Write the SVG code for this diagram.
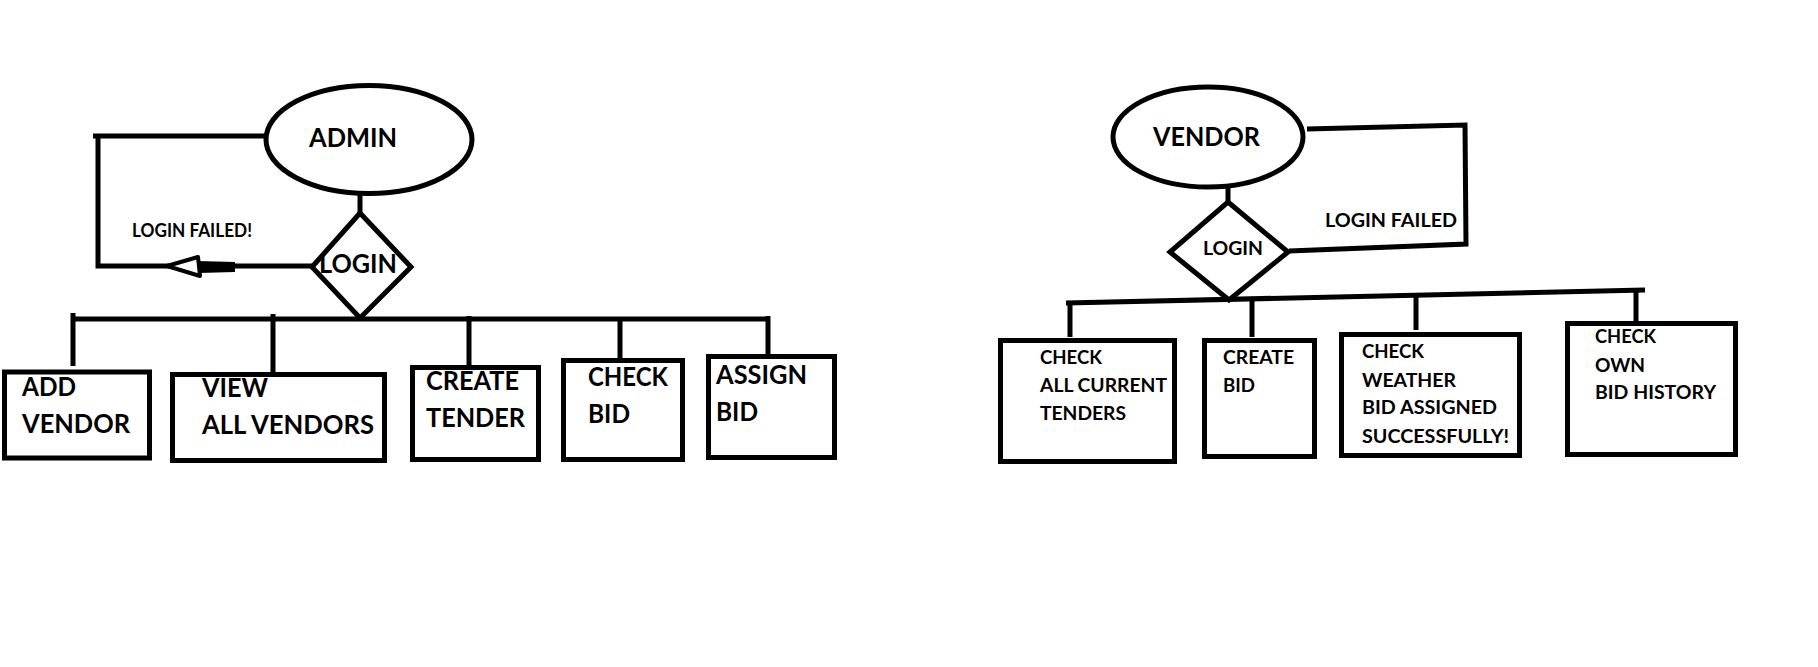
<svg xmlns="http://www.w3.org/2000/svg" width="1818" height="667" viewBox="0 0 1818 667">
<style>
  .shape { fill: #fff; stroke: #000; stroke-width: 5; }
  .line { fill: none; stroke: #000; stroke-width: 5; stroke-linejoin: miter; }
  text { font-family: Lato, "Open Sans", "Liberation Sans", sans-serif; font-weight: bold; fill: #000; }
  .big { font-size: 26px; }
  .mid { font-size: 19.5px; }
  .sm { font-size: 18px; }
</style>
<rect width="1818" height="667" fill="#fff"/>
<g id="connectors">
  <path class="line" d="M267,136 H93 M98,136 V266 H312"/>
  <polygon points="167,266 198,257 200,276" fill="#fff" stroke="#000" stroke-width="4" stroke-linejoin="round"/>
  <polygon points="197,261 235,262 235,272 199,273" fill="#000"/>
  <path class="line" d="M360,194 V213"/>
  <path class="line" d="M71,319 H768"/>
  <path class="line" d="M73,313 V366"/>
  <path class="line" d="M273,314 V372"/>
  <path class="line" d="M469,316 V365"/>
  <path class="line" d="M620,319 V358"/>
  <path class="line" d="M768,316 V354"/>
  <path class="line" d="M1228,187 V202"/>
  <path class="line" d="M1307,129 L1465,125 L1466,244 L1289,251"/>
  <path class="line" d="M1066,303 L1645,290"/>
  <path class="line" d="M1070,303 V337"/>
  <path class="line" d="M1252,299 V337"/>
  <path class="line" d="M1416,296 V330"/>
  <path class="line" d="M1636,290 V322"/>
</g>
<g id="admin">
  <ellipse class="shape" cx="369" cy="139.5" rx="103" ry="54"/>
  <text class="big" x="309" y="147" textLength="88" lengthAdjust="spacingAndGlyphs">ADMIN</text>
</g>
<g id="admin-login">
  <polygon class="shape" points="360,213 411,267 360,318 312,267"/>
  <text class="big" x="319" y="273" textLength="78" lengthAdjust="spacingAndGlyphs">LOGIN</text>
</g>
<g id="admin-login-failed">
  <text class="sm" x="132" y="237" textLength="120" lengthAdjust="spacingAndGlyphs">LOGIN FAILED!</text>
</g>
<g id="add-vendor">
  <rect class="shape" x="4.5" y="372" width="145" height="86"/>
  <text class="big" x="22" y="396" textLength="54" lengthAdjust="spacingAndGlyphs">ADD</text>
  <text class="big" x="22" y="433" textLength="108" lengthAdjust="spacingAndGlyphs">VENDOR</text>
</g>
<g id="view-all-vendors">
  <rect class="shape" x="172.5" y="374.5" width="212" height="86"/>
  <text class="big" x="202" y="397" textLength="66" lengthAdjust="spacingAndGlyphs">VIEW</text>
  <text class="big" x="202" y="434" textLength="172" lengthAdjust="spacingAndGlyphs">ALL VENDORS</text>
</g>
<g id="create-tender">
  <rect class="shape" x="412.5" y="367.5" width="126" height="92"/>
  <text class="big" x="426" y="390" textLength="93" lengthAdjust="spacingAndGlyphs">CREATE</text>
  <text class="big" x="426" y="427" textLength="99" lengthAdjust="spacingAndGlyphs">TENDER</text>
</g>
<g id="check-bid">
  <rect class="shape" x="563.5" y="360.5" width="119" height="99"/>
  <text class="big" x="588" y="386" textLength="80" lengthAdjust="spacingAndGlyphs">CHECK</text>
  <text class="big" x="588" y="423" textLength="42" lengthAdjust="spacingAndGlyphs">BID</text>
</g>
<g id="assign-bid">
  <rect class="shape" x="708.5" y="356.5" width="126" height="101"/>
  <text class="big" x="716" y="384" textLength="91" lengthAdjust="spacingAndGlyphs">ASSIGN</text>
  <text class="big" x="716" y="421" textLength="42" lengthAdjust="spacingAndGlyphs">BID</text>
</g>
<g id="vendor">
  <ellipse class="shape" cx="1208" cy="137" rx="95" ry="50"/>
  <text class="big" x="1153" y="146" textLength="107" lengthAdjust="spacingAndGlyphs">VENDOR</text>
</g>
<g id="vendor-login">
  <polygon class="shape" points="1228,202 1288,252 1229,300 1170,252"/>
  <text class="mid" x="1203" y="255" textLength="60" lengthAdjust="spacingAndGlyphs">LOGIN</text>
</g>
<g id="vendor-login-failed">
  <text class="mid" x="1325" y="227" textLength="132" lengthAdjust="spacingAndGlyphs">LOGIN FAILED</text>
</g>
<g id="check-all-current-tenders">
  <rect class="shape" x="1000.5" y="340.5" width="174" height="121"/>
  <text class="mid" x="1040" y="364" textLength="62" lengthAdjust="spacingAndGlyphs">CHECK</text>
  <text class="mid" x="1040" y="392" textLength="127" lengthAdjust="spacingAndGlyphs">ALL CURRENT</text>
  <text class="mid" x="1040" y="420" textLength="86" lengthAdjust="spacingAndGlyphs">TENDERS</text>
</g>
<g id="create-bid">
  <rect class="shape" x="1204.5" y="340.5" width="110" height="116"/>
  <text class="mid" x="1223" y="364" textLength="71" lengthAdjust="spacingAndGlyphs">CREATE</text>
  <text class="mid" x="1223" y="392" textLength="32" lengthAdjust="spacingAndGlyphs">BID</text>
</g>
<g id="check-bid-assigned">
  <rect class="shape" x="1341.5" y="334.5" width="178" height="121"/>
  <text class="mid" x="1362" y="358" textLength="62" lengthAdjust="spacingAndGlyphs">CHECK</text>
  <text class="mid" x="1362" y="387" textLength="94" lengthAdjust="spacingAndGlyphs">WEATHER</text>
  <text class="mid" x="1362" y="414" textLength="135" lengthAdjust="spacingAndGlyphs">BID ASSIGNED</text>
  <text class="mid" x="1362" y="443" textLength="147" lengthAdjust="spacingAndGlyphs">SUCCESSFULLY!</text>
</g>
<g id="check-own-bid-history">
  <rect class="shape" x="1567.5" y="323.5" width="168" height="131"/>
  <text class="mid" x="1595" y="343" textLength="61" lengthAdjust="spacingAndGlyphs">CHECK</text>
  <text class="mid" x="1595" y="372" textLength="50" lengthAdjust="spacingAndGlyphs">OWN</text>
  <text class="mid" x="1595" y="399" textLength="121" lengthAdjust="spacingAndGlyphs">BID HISTORY</text>
</g>
</svg>
